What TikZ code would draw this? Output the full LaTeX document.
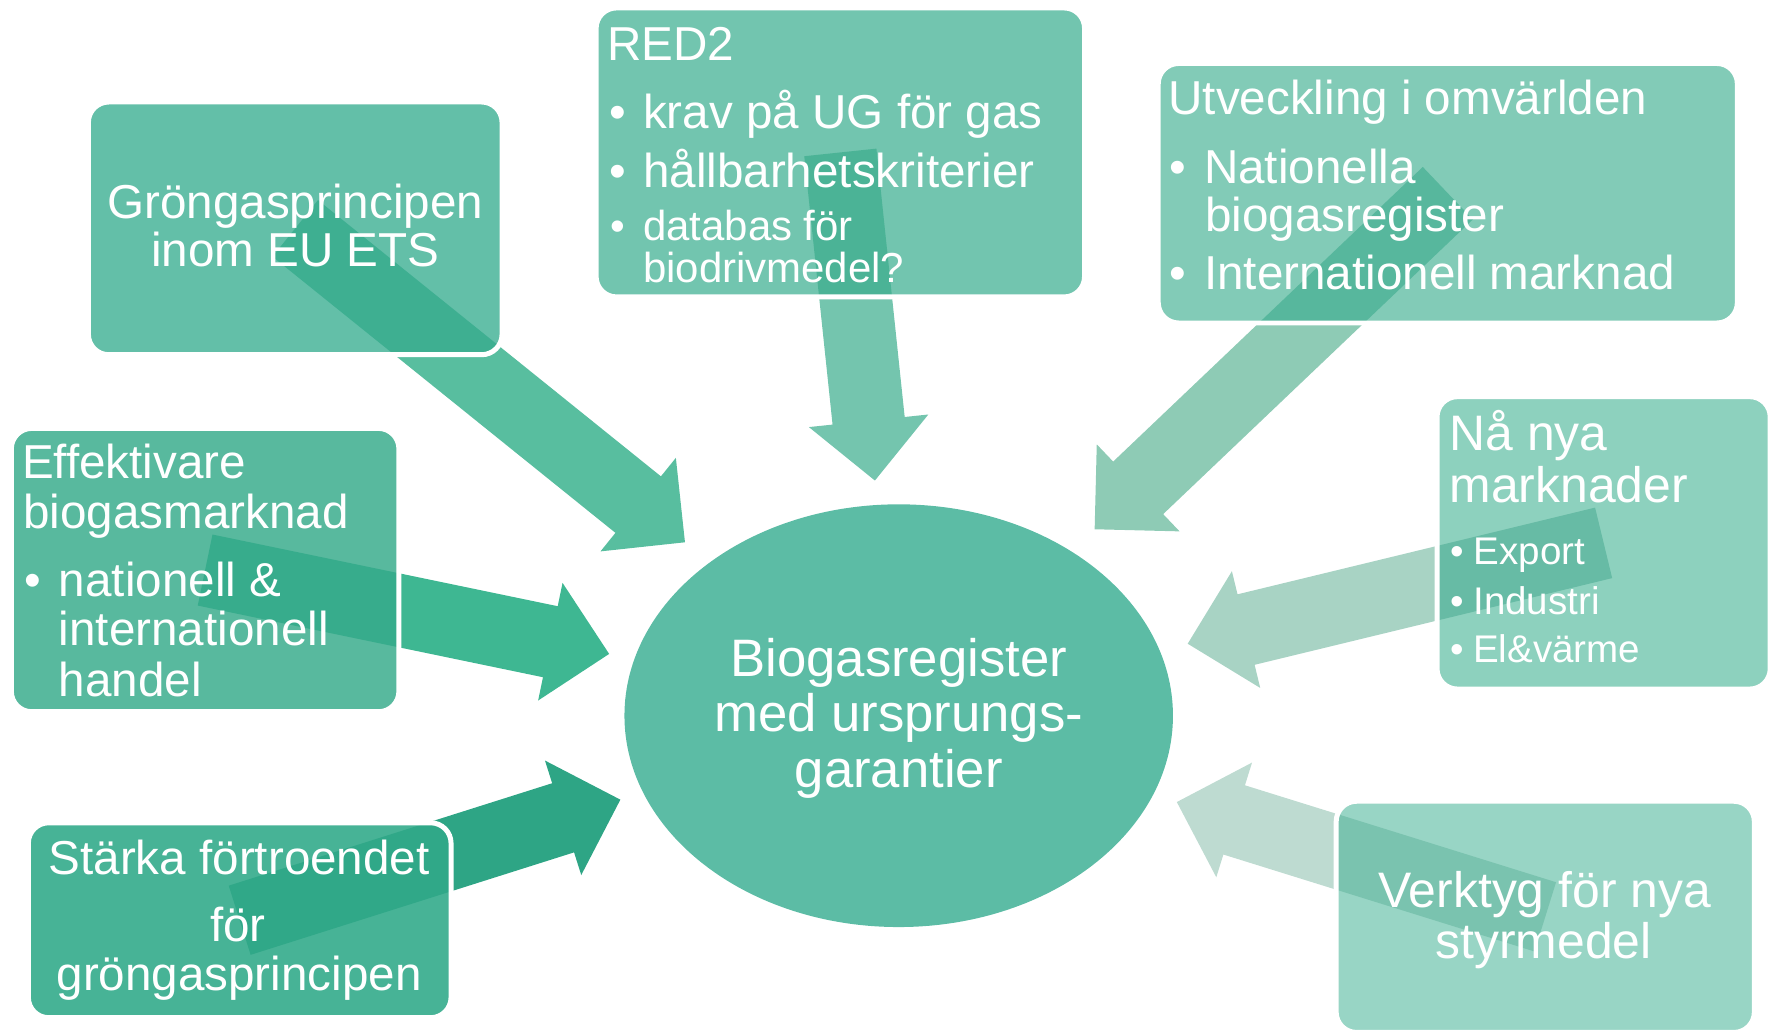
\documentclass[tikz,border=0pt]{standalone}
\usepackage{fontspec}
\setmainfont{Liberation Sans}
\usetikzlibrary{calc,shapes.geometric}
\pgfdeclarelayer{bg}
\pgfsetlayers{bg,main}
\definecolor{arA}{HTML}{58BE9F}\definecolor{bxA}{HTML}{63BFA8}\definecolor{ovA}{HTML}{3EAF91}
\definecolor{arB}{HTML}{74C5AE}\definecolor{bxB}{HTML}{72C5AF}\definecolor{ovB}{HTML}{4BB396}
\definecolor{arC}{HTML}{8ECBB5}\definecolor{bxC}{HTML}{82CBB7}\definecolor{ovC}{HTML}{57B79D}
\definecolor{arD}{HTML}{3EB792}\definecolor{bxD}{HTML}{58B99E}\definecolor{ovD}{HTML}{37AC8C}
\definecolor{arE}{HTML}{2EA585}\definecolor{bxE}{HTML}{47B396}\definecolor{ovE}{HTML}{30A888}
\definecolor{arF}{HTML}{A8D3C4}\definecolor{bxF}{HTML}{8DD1BE}\definecolor{ovF}{HTML}{67BBA5}
\definecolor{arG}{HTML}{BEDBD1}\definecolor{bxG}{HTML}{98D5C5}\definecolor{ovG}{HTML}{7AC3AF}
\definecolor{ellc}{HTML}{5CBCA5}
\newcommand\blockarrow[3]{%
  \path[#1] let \p1=(#2), \p2=(#3), \n1={atan2(\y2-\y1,\x2-\x1)} in
    ($(#2)+({\n1+90}:16pt)$)
    -- ($(#3)+({\n1+180}:26.5pt)+({\n1+90}:16pt)$)
    -- ($(#3)+({\n1+180}:26.5pt)+({\n1+90}:26.5pt)$)
    -- (#3)
    -- ($(#3)+({\n1+180}:26.5pt)+({\n1-90}:26.5pt)$)
    -- ($(#3)+({\n1+180}:26.5pt)+({\n1-90}:16pt)$)
    -- ($(#2)+({\n1-90}:16pt)$) -- cycle;}
\newcommand\boxpart[3]{% node, arrow tip, overlap colour
  \begin{scope}
    \clip[rounded corners=9pt] (#1.south west) rectangle (#1.north east);
    \blockarrow{fill=#3}{#1.center}{#2}
  \end{scope}
  \draw[outline] (#1.south west) rectangle (#1.north east);}
\tikzset{
  boxfill/.style={rectangle, rounded corners=9pt, inner sep=0pt, outer sep=0pt},
  outline/.style={draw=white, line width=2.2pt, rounded corners=9pt},
  txt/.style={text=white, inner sep=0pt, outer sep=0pt},
  tA/.style={txt, font=\fontsize{21}{25}\selectfont},
  tS/.style={txt, font=\fontsize{18.5}{22}\selectfont},
  tB/.style={txt, font=\fontsize{22}{26}\selectfont},
  tX/.style={txt, font=\fontsize{17}{20}\selectfont},
  tC/.style={txt, font=\fontsize{23.25}{27}\selectfont},
}
\begin{document}
\begin{tikzpicture}[x=0.5pt,y=-0.5pt]
\useasboundingbox (0,0) rectangle (1568,911);
% boxes
\node[boxfill, fill=bxA, minimum width=182.5pt, minimum height=111.5pt] (b1) at (260.5,201.5) {};
\node[boxfill, fill=bxB, minimum width=215.5pt, minimum height=127.5pt] (b2) at (741.5,134.5) {};
\node[boxfill, fill=bxC, minimum width=255.5pt, minimum height=114.5pt] (b3) at (1277.5,170.5) {};
\node[boxfill, fill=bxD, minimum width=171pt, minimum height=125pt] (b4) at (181,503) {};
\node[boxfill, fill=bxE, minimum width=186.5pt, minimum height=86pt] (b5) at (211.5,812) {};
\node[boxfill, fill=bxF, minimum width=147pt, minimum height=129pt] (b6) at (1415,479) {};
\node[boxfill, fill=bxG, minimum width=184.5pt, minimum height=102pt] (b7) at (1363.5,809) {};
\node[ellipse, fill=ellc, inner sep=0pt, minimum width=242pt, minimum height=186.5pt] (c) at (793,631.5) {};
% arrow tips
\coordinate (t1) at (604.4,478.5);
\coordinate (t2) at (772,424);
\coordinate (t3) at (965.9,467);
\coordinate (t4) at (537.5,577);
\coordinate (t5) at (547.4,705.6);
\coordinate (t6) at (1048,568);
\coordinate (t7) at (1038.4,707.7);
% arrows below the boxes
\begin{pgfonlayer}{bg}
\blockarrow{fill=arA}{b1.center}{t1}
\blockarrow{fill=arB}{b2.center}{t2}
\blockarrow{fill=arC}{b3.center}{t3}
\blockarrow{fill=arD}{b4.center}{t4}
\blockarrow{fill=arE}{b5.center}{t5}
\blockarrow{fill=arF}{b6.center}{t6}
\blockarrow{fill=arG}{b7.center}{t7}
\end{pgfonlayer}
% arrow parts seen through the boxes, and white box outlines
\boxpart{b1}{t1}{ovA}
\boxpart{b2}{t2}{ovB}
\boxpart{b3}{t3}{ovC}
\boxpart{b4}{t4}{ovD}
\boxpart{b5}{t5}{ovE}
\boxpart{b6}{t6}{ovF}
\boxpart{b7}{t7}{ovG}
% texts
\node[tA, anchor=base] (g1) at (260.5,192.5) {Gröngasprincipen};
\node[tA, anchor=base] (g2) at (260.5,235) {inom EU ETS};
%
\node[tA, anchor=base west] (r0) at (536,53.5) {RED2};
\node[tA, anchor=base west] (r1b) at (537.5,113.8) {•};
\node[tA, anchor=base west] (r1) at (567.5,113.8) {krav på UG för gas};
\node[tA, anchor=base west] (r2b) at (537.5,165.2) {•};
\node[tA, anchor=base west] (r2) at (567.5,165.2) {hållbarhetskriterier};
\node[tS, anchor=base west] (r3b) at (538.5,212.5) {•};
\node[tS, anchor=base west] (r3) at (567.5,212.5) {databas för};
\node[tS, anchor=base west] (r4) at (567.5,249) {biodrivmedel?};
%
\node[tA, anchor=base west] (u0) at (1031,100.6) {Utveckling i omvärlden};
\node[tA, anchor=base west] (u1b) at (1032,162.2) {•};
\node[tA, anchor=base west] (u1) at (1062.5,162.2) {Nationella};
\node[tA, anchor=base west] (u2) at (1063.5,204) {biogasregister};
\node[tA, anchor=base west] (u3b) at (1032,255.4) {•};
\node[tA, anchor=base west] (u3) at (1062.5,255.4) {Internationell marknad};
%
\node[tA, anchor=base west] (e0) at (19.5,422) {Effektivare};
\node[tA, anchor=base west] (e1) at (20.5,466) {biogasmarknad};
\node[tA, anchor=base west] (e2b) at (21.5,526.4) {•};
\node[tA, anchor=base west] (e2) at (52,526.4) {nationell \&};
\node[tA, anchor=base west] (e3) at (52,570) {internationell};
\node[tA, anchor=base west] (e4) at (52,614.7) {handel};
%
\node[tA, anchor=base] (s1) at (211,772) {Stärka förtroendet};
\node[tA, anchor=base] (s2) at (210,831) {för};
\node[tA, anchor=base] (s3) at (211,874) {gröngasprincipen};
%
\node[tB, anchor=base west] (n0) at (1279,397.4) {Nå nya};
\node[tB, anchor=base west] (n1) at (1279,443.8) {marknader};
\node[tX, anchor=base west] (n2b) at (1279.6,498.5) {•};
\node[tX, anchor=base west] (n2) at (1300.5,498.5) {Export};
\node[tX, anchor=base west] (n3b) at (1279.6,542.3) {•};
\node[tX, anchor=base west] (n3) at (1300,542.3) {Industri};
\node[tX, anchor=base west] (n4b) at (1279.6,584.3) {•};
\node[tX, anchor=base west] (n4) at (1300,584.3) {El\&värme};
%
\node[tB, anchor=base] (v1) at (1363,800.5) {Verktyg för nya};
\node[tB, anchor=base] (v2) at (1362,845.5) {styrmedel};
%
\node[tC, anchor=base] (c1) at (793,597) {Biogasregister};
\node[tC, anchor=base] (c2) at (793,645.5) {med ursprungs-};
\node[tC, anchor=base] (c3) at (793,694.5) {garantier};
\end{tikzpicture}
\end{document}
